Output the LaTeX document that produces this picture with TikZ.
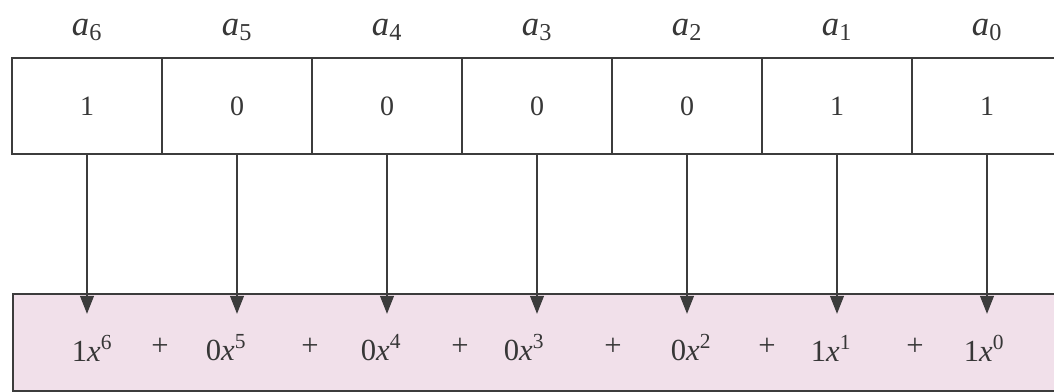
\documentclass[tikz,border=0pt]{standalone}
\usepackage{fontspec}
\setmainfont{Liberation Serif}
\usetikzlibrary{arrows.meta}
\definecolor{barpink}{RGB}{241,224,234}
\definecolor{linegray}{RGB}{60,60,60}
\definecolor{txtgray}{RGB}{55,55,55}
\newcommand{\lab}[1]{\textit{a}\textsubscript{#1}}
\newcommand{\trm}[2]{#1\textit{x}\textsuperscript{#2}}
\begin{document}
\begin{tikzpicture}[x=0.75pt,y=-0.75pt,
  cell/.style={draw=linegray,line width=1.6pt,minimum width=112.5pt,minimum height=72pt,inner sep=0pt,text=txtgray,font=\fontsize{21}{25}\selectfont},
  lbl/.style={inner sep=0pt,text=txtgray,font=\fontsize{26}{30}\selectfont},
  term/.style={inner sep=0pt,text=txtgray,font=\fontsize{23}{27}\selectfont},
  conn/.style={draw=linegray,line width=2pt,-{Triangle[length=13.5pt,width=10pt]}},
  barbox/.style={draw=linegray,line width=1.5pt,fill=barpink,minimum width=801pt,minimum height=72.75pt,inner sep=0pt,anchor=north west}]
\clip (0,0) rectangle (1054,392);
\fill[white] (0,0) rectangle (1054,392);
% bar
\node[barbox] (bar) at (12,293) {};
% cells
\foreach \i/\v [evaluate=\i as \cx using 987-150*\i] in {6/1,5/0,4/0,3/0,2/0,1/1,0/1}{
  \node[cell] (c\i) at (\cx,106) {\v};
  \node[lbl] (l\i) at (\cx,30) {\lab{\i}};
  \coordinate (t\i) at (\cx,314);
  \draw[conn] (c\i.south) -- (t\i);
}
% terms
\node[term] (p6) at (92,348) {\trm{1}{6}};
\node[term] (s1) at (160,347) {+};
\node[term] (p5) at (226,348) {\trm{0}{5}};
\node[term] (s2) at (310,347) {+};
\node[term] (p4) at (381,348) {\trm{0}{4}};
\node[term] (s3) at (460,347) {+};
\node[term] (p3) at (524,348) {\trm{0}{3}};
\node[term] (s4) at (613,347) {+};
\node[term] (p2) at (691,348) {\trm{0}{2}};
\node[term] (s5) at (767,347) {+};
\node[term] (p1) at (831,348) {\trm{1}{1}};
\node[term] (s6) at (915,347) {+};
\node[term] (p0) at (984,348) {\trm{1}{0}};
\end{tikzpicture}
\end{document}
